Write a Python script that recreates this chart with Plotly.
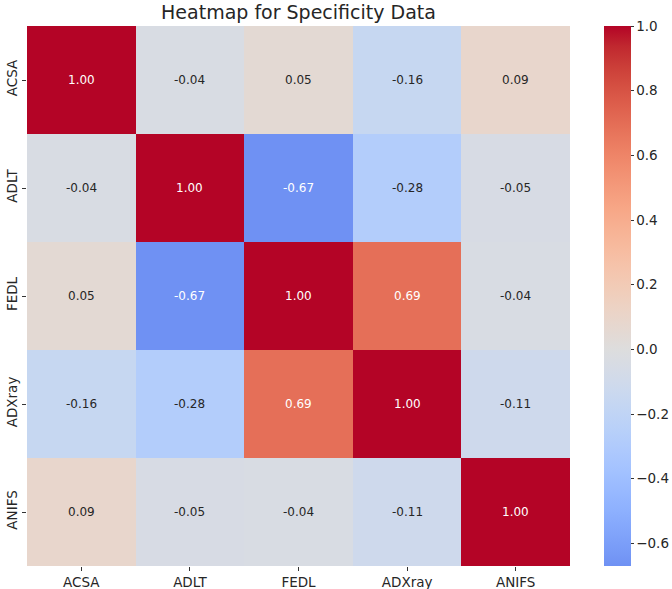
import plotly.graph_objects as go

# Correlation matrix of specificity measures
labels = ["ACSA", "ADLT", "FEDL", "ADXray", "ANIFS"]
corr = [
    [1.00, -0.04, 0.05, -0.16, 0.09],
    [-0.04, 1.00, -0.67, -0.28, -0.05],
    [0.05, -0.67, 1.00, 0.69, -0.04],
    [-0.16, -0.28, 0.69, 1.00, -0.11],
    [0.09, -0.05, -0.04, -0.11, 1.00],
]
cbar_ticks = [-0.6, -0.4, -0.2, 0.0, 0.2, 0.4, 0.6, 0.8, 1.0]

# Moreland "coolwarm" diverging map, 33 control points
COOLWARM = [
    (59, 76, 192), (68, 90, 204), (77, 104, 215), (87, 117, 225),
    (98, 130, 234), (108, 142, 241), (119, 154, 247), (130, 165, 251),
    (141, 176, 254), (152, 185, 255), (163, 194, 255), (174, 201, 253),
    (184, 208, 249), (194, 213, 244), (204, 217, 238), (213, 219, 230),
    (221, 221, 221), (229, 216, 209), (236, 211, 197), (241, 204, 184),
    (245, 196, 172), (247, 187, 159), (247, 177, 147), (247, 166, 134),
    (244, 154, 123), (241, 141, 111), (236, 127, 99), (229, 112, 88),
    (222, 96, 77), (213, 80, 66), (203, 62, 56), (192, 40, 47),
    (180, 4, 38),
]
n = len(COOLWARM) - 1

zmin = min(min(r) for r in corr)
zmax = max(max(r) for r in corr)
center = 0.0
half = max(zmax - center, center - zmin)


def cmap(t):
    t = min(max(t, 0.0), 1.0) * n
    i = min(int(t), n - 1)
    f = t - i
    a, b = COOLWARM[i], COOLWARM[i + 1]
    return [a[k] + (b[k] - a[k]) * f for k in range(3)]


def color_at(v):
    # map centred on zero, symmetric span
    return cmap((v - center + half) / (2 * half))


def rgb_str(c):
    return "rgb(%d,%d,%d)" % tuple(round(x) for x in c)


# Colorscale over [zmin, zmax] taken from the zero-centred map
colorscale = [[0.0, rgb_str(color_at(zmin))]]
for k in range(n + 1):
    v = center - half + 2 * half * k / n
    if zmin < v < zmax:
        colorscale.append([(v - zmin) / (zmax - zmin), rgb_str(COOLWARM[k])])
colorscale.append([1.0, rgb_str(color_at(zmax))])


def luminance(rgb):
    lin = []
    for c in rgb:
        c = c / 255.0
        lin.append(c / 12.92 if c <= 0.03928 else ((c + 0.055) / 1.055) ** 2.4)
    return 0.2126 * lin[0] + 0.7152 * lin[1] + 0.0722 * lin[2]


fig = go.Figure()
fig.add_trace(go.Heatmap(
    z=corr,
    x=labels,
    y=labels,
    zmin=zmin,
    zmax=zmax,
    colorscale=colorscale,
    hoverinfo="skip",
    colorbar=dict(
        x=1.0626, xanchor="left", xpad=0, ypad=0,
        y=0.5, yanchor="middle", len=1, lenmode="fraction",
        thickness=27, outlinewidth=0,
        tickvals=cbar_ticks,
        ticktext=[("%.1f" % t).replace("-", "\u2212") for t in cbar_ticks],
        ticks="outside", ticklen=3, tickwidth=1, tickcolor="#333333",
        tickfont=dict(family="DejaVu Sans", size=13.5, color="#262626"),
    ),
))

# Value labels in each cell, light text on dark cells
for i, row_name in enumerate(labels):
    for j, col_name in enumerate(labels):
        v = corr[i][j]
        txt_color = "white" if luminance(color_at(v)) < 0.408 else "#262626"
        fig.add_annotation(
            x=col_name, y=row_name, text="%.2f" % v, showarrow=False,
            font=dict(family="DejaVu Sans", size=12, color=txt_color),
        )

fig.update_layout(
    width=672, height=589,
    margin=dict(l=27, r=102, t=26, b=23, autoexpand=False),
    paper_bgcolor="white", plot_bgcolor="white",
    title=dict(
        text="Heatmap for Specificity Data",
        x=(27 + 570) / 2 / 672, xanchor="center",
        y=1 - 12 / 589, yanchor="middle", yref="container",
        font=dict(family="DejaVu Sans", size=19, color="#262626"),
    ),
    xaxis=dict(
        showgrid=False, zeroline=False, showline=False,
        ticks="outside", ticklen=4, tickwidth=1, tickcolor="#333333",
        tickfont=dict(family="DejaVu Sans", size=13.5, color="#262626"),
    ),
    yaxis=dict(
        autorange="reversed",
        showgrid=False, zeroline=False, showline=False,
        ticks="outside", ticklen=4, tickwidth=1, tickcolor="#333333",
        tickangle=-90,
        tickfont=dict(family="DejaVu Sans", size=13.5, color="#262626"),
    ),
)

fig.write_html("out.html")
